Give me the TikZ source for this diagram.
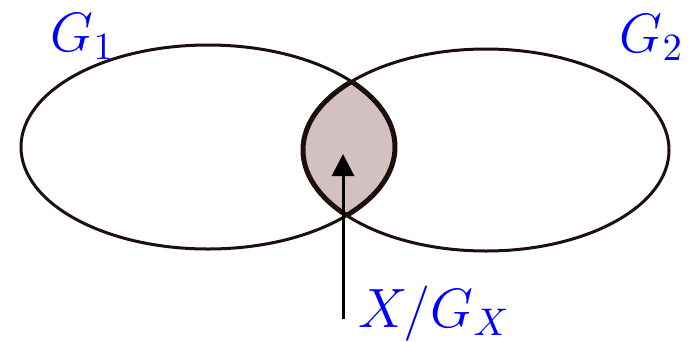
\documentclass[tikz,border=0pt]{standalone}
\usetikzlibrary{arrows.meta}
\definecolor{edge}{RGB}{30,15,15}
\definecolor{lens}{RGB}{211,193,193}
\definecolor{lbl}{RGB}{0,0,255}
\tikzset{
  ell/.style={draw=edge, line width=3pt},
  lensline/.style={draw=edge, line width=5pt},
  lab/.style={text=lbl, inner sep=0pt, anchor=base west, font=\Large, scale=3.85},
  arr/.style={draw=black, line width=3pt, -{Triangle[length=22pt,width=22pt]}}
}
\def\ellA{(208,147) ellipse [x radius=187, y radius=102]}
\def\ellB{(486,150) ellipse [x radius=183, y radius=101]}
\begin{document}
\begin{tikzpicture}[x=1pt,y=-1pt]
\useasboundingbox (0,0) rectangle (688,341);
% lens fill + outline
\begin{scope}
  \clip \ellA;
  \fill[lens] \ellB;
  \draw[lensline] \ellB;
\end{scope}
\begin{scope}
  \clip \ellB;
  \draw[lensline] \ellA;
\end{scope}
\draw[ell] \ellA;
\draw[ell] \ellB;
\coordinate (tail) at (343,319);
\coordinate (head) at (343,154);
\draw[arr] (tail) -- (head);
\node[lab] (g1) at (50,51) {$G_1$};
\node[lab] (g2) at (619,52) {$G_2$};
\node[lab] (x) at (358,327) {$X/G_X$};
\end{tikzpicture}
\end{document}
